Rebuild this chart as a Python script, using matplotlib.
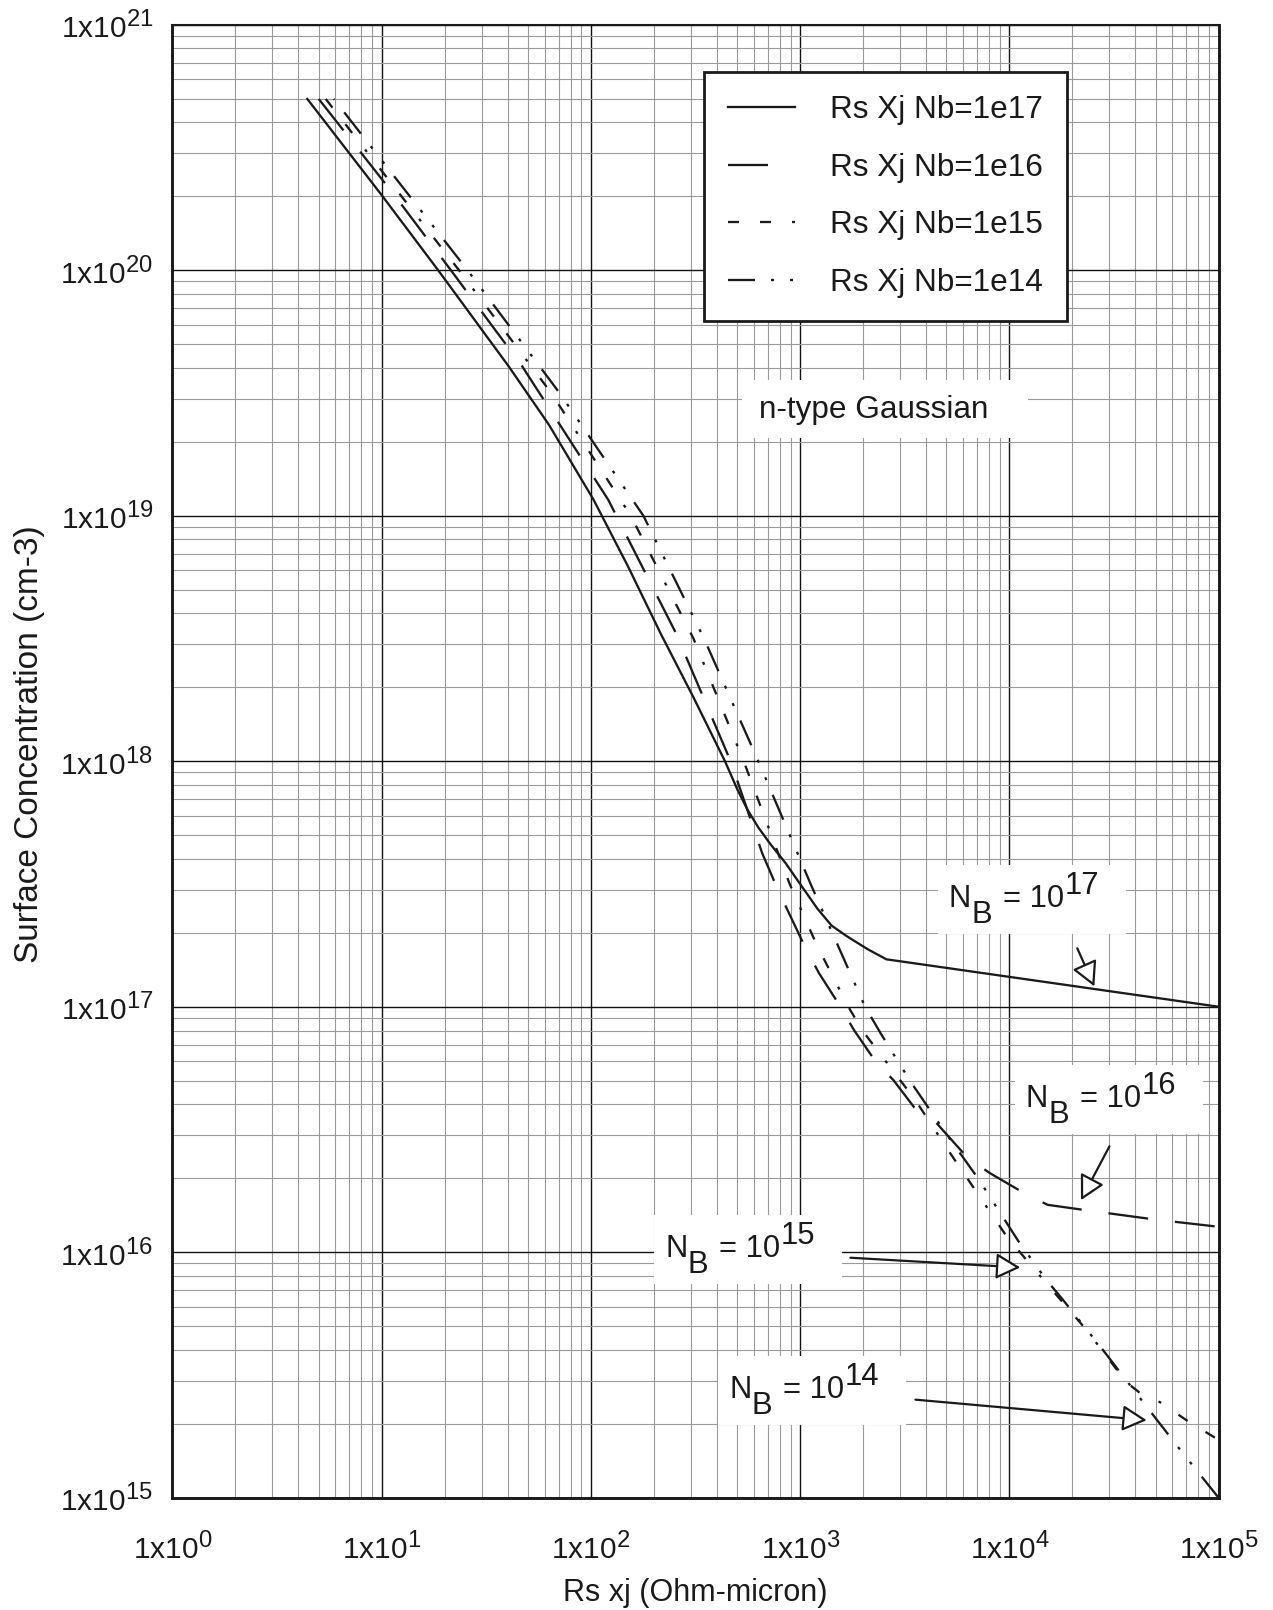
import numpy as np
import matplotlib
matplotlib.use("Agg")
import matplotlib.pyplot as plt
import matplotlib._mathtext as mathtext_core
from matplotlib import transforms
from matplotlib.patches import Rectangle
from matplotlib.ticker import LogLocator, FixedLocator, FuncFormatter, NullFormatter

plt.rcParams['font.family'] = ['Liberation Sans', 'DejaVu Sans']
plt.rcParams['mathtext.fontset'] = 'custom'
plt.rcParams['mathtext.rm'] = 'Liberation Sans'
plt.rcParams['mathtext.it'] = 'Liberation Sans:italic'
plt.rcParams['mathtext.bf'] = 'Liberation Sans:bold'
plt.rcParams['mathtext.default'] = 'regular'
plt.rcParams['lines.scale_dashes'] = False
mathtext_core.SHRINK_FACTOR = 0.8  # exponents in the tick labels are nearly full size

# Rs*xj (Ohm-micron) vs surface concentration (cm-3)
rsxj_nb17 = [4.41, 10, 18.6, 40.5, 63.1, 103, 151, 215, 309, 437, 501, 562, 631,
             724, 851, 1000, 1208, 1413, 1667, 2089, 2582, 1e5]
ns_nb17 = [4.98e20, 2.02e20, 1.0e20, 4.05e19, 2.34e19, 1.16e19, 6.17e18, 3.32e18,
           1.82e18, 1.0e18, 7.67e17, 6.31e17, 5.37e17, 4.57e17, 3.85e17, 3.16e17,
           2.51e17, 2.14e17, 1.94e17, 1.72e17, 1.56e17, 1.0e17]

rsxj_nb16 = [5.0, 11.5, 21.4, 47.0, 121, 255, 465, 659, 778, 885, 1062, 1230, 1535,
             1807, 2296, 2793, 3508, 4385, 6353, 8147, 11780, 15240, 23660, 49320, 1e5]
ns_nb16 = [4.98e20, 2.02e20, 1.0e20, 4.05e19, 1.16e19, 3.32e18, 1.0e18, 4.21e17,
           3.03e17, 2.4e17, 1.73e17, 1.37e17, 1.02e17, 8.04e16, 5.97e16, 5.02e16,
           3.89e16, 3.43e16, 2.41e16, 2.09e16, 1.74e16, 1.56e16, 1.48e16, 1.36e16,
           1.27e16]

rsxj_nb15 = [5.4, 23.4, 64.6, 155, 309, 537, 891, 1202, 1698, 1995, 3548, 5248,
             9772, 14790, 23280, 36310, 41690, 52480, 70800, 1e5]
ns_nb15 = [4.98e20, 1.0e20, 3.16e19, 1.0e19, 3.16e18, 1.0e18, 3.16e17, 1.78e17,
           1.0e17, 7.94e16, 4.17e16, 2.51e16, 1.15e16, 7.59e15, 4.84e15, 2.95e15,
           2.69e15, 2.45e15, 2.06e15, 1.72e15]

rsxj_nb14 = [5.9, 25.7, 70.8, 178, 347, 631, 1122, 2042, 2427, 3020, 3508, 5012,
             7079, 10960, 14930, 17950, 27990, 42950, 66990, 1e5]
ns_nb14 = [4.98e20, 1.0e20, 3.16e19, 1.0e19, 3.16e18, 1.0e18, 3.16e17, 1.0e17,
           7.78e16, 5.75e16, 4.71e16, 3.02e16, 2.0e16, 1.12e16, 7.76e15, 6.43e15,
           4.0e15, 2.49e15, 1.53e15, 1.0e15]

series = [(rsxj_nb17, ns_nb17, 'Rs Xj Nb=1e17'),
          (rsxj_nb16, ns_nb16, 'Rs Xj Nb=1e16'),
          (rsxj_nb15, ns_nb15, 'Rs Xj Nb=1e15'),
          (rsxj_nb14, ns_nb14, 'Rs Xj Nb=1e14')]

x_decades = [1e0, 1e1, 1e2, 1e3, 1e4, 1e5]
y_decades = [1e15, 1e16, 1e17, 1e18, 1e19, 1e20, 1e21]
nb_exponents = ['17', '16', '15', '14']

px = 0.72  # points per pixel at dpi 100
line_styles = ['-',
               (0, (40 * px, 27 * px)),
               (0, (11 * px, 21 * px, 11 * px, 21 * px, 3 * px, 21 * px)),
               (0, (27 * px, 16 * px, 3 * px, 16 * px, 3 * px, 16 * px))]
ink = '#1a1a1a'

fig = plt.figure(figsize=(12.73, 16.10), dpi=100)
ax = fig.add_axes([0.1355, 0.0697, 0.8218, 0.9150])
ax.set_xscale('log')
ax.set_yscale('log')
ax.set_xlim(x_decades[0], x_decades[-1])
ax.set_ylim(y_decades[0], y_decades[-1])

for i, ((xs, ys, lab), ls) in enumerate(zip(series, line_styles)):
    if i == 3:
        # dash pattern starts at the lower right corner, as on the original
        xs, ys = xs[::-1], ys[::-1]
    ax.plot(xs, ys, color=ink, lw=1.65, ls=ls, label=lab, zorder=3)

fmt = FuncFormatter(lambda v, _: '1x10$^{%d}$' % int(round(np.log10(v))))
for axis, decades in ((ax.xaxis, x_decades), (ax.yaxis, y_decades)):
    axis.set_major_locator(FixedLocator(decades))
    axis.set_minor_locator(LogLocator(base=10, subs=np.arange(2, 10), numticks=12))
    axis.set_major_formatter(fmt)
    axis.set_minor_formatter(NullFormatter())

ax.grid(which='major', color='#111111', lw=1.0, zorder=1)
ax.grid(which='minor', color='#9a9a9a', lw=0.8, zorder=1)
ax.set_axisbelow(True)
ax.tick_params(which='both', length=0, labelsize=21.5, colors=ink)
ax.tick_params(axis='x', pad=44)
ax.tick_params(axis='y', pad=14)
plt.setp(ax.get_xticklabels(), va='baseline')
for name, sp in ax.spines.items():
    sp.set_linewidth(1.5 if name == 'top' else 2.1)
    sp.set_color(ink)

ax.set_xlabel('Rs xj (Ohm-micron)', fontsize=22, color=ink)
ax.set_ylabel('Surface Concentration (cm-3)', fontsize=24, color=ink)
ax.xaxis.set_label_coords(0.5, -0.0545)
ax.yaxis.set_label_coords(-0.1214, 0.5115)

leg = ax.legend(loc='upper left', bbox_to_anchor=(0.508, 0.968), fontsize=22.7,
                frameon=True, fancybox=False, edgecolor=ink, framealpha=1,
                handlelength=2.15, handletextpad=1.1, labelspacing=0.87,
                borderpad=0.75, borderaxespad=0)
leg.get_frame().set_linewidth(2.0)
for t in leg.get_texts():
    t.set_color(ink)


def at_data(xd, yd):
    # inches measured from a data point
    return fig.dpi_scale_trans + transforms.ScaledTranslation(xd, yd, ax.transData)


def white_box(xd, yd, x0, y0, w, h):
    ax.add_artist(Rectangle((x0, y0), w, h, transform=at_data(xd, yd),
                            fc='white', ec='none', zorder=4))


# n-type Gaussian label
white_box(633, 2.5e19, -0.17, -0.20, 2.86, 0.58)
ax.text(633, 2.5e19, 'n-type Gaussian', fontsize=22.7, color=ink,
        ha='left', va='baseline', zorder=5)

# N_B labels: (label anchor, arrow tip, arrow start)
nb_notes = [((5140, 2.55e17), (25460, 1.21e17), (21100, 1.73e17)),
            ((12000, 3.9e16), (21980, 1.63e16), (30060, 2.7e16)),
            ((226, 9.58e15), (11270, 8.67e15), (1738, 9.5e15)),
            ((457, 2.54e15), (45300, 2.07e15), (3556, 2.51e15))]

for exp, (pos, tip, start) in zip(nb_exponents, nb_notes):
    white_box(pos[0], pos[1], -0.11, -0.27, 1.88, 0.69)
    for s, dx, dy in [('N', 0, 0), ('B', 16.3, -11.5), ('= 10', 38.7, 0), (exp, 83.0, 9.4)]:
        ax.annotate(s, xy=pos, xytext=(dx, dy), textcoords='offset points',
                    fontsize=22.3, color=ink, ha='left', va='baseline', zorder=5)
    ax.annotate('', xy=tip, xytext=start,
                arrowprops=dict(arrowstyle='-|>,head_length=0.75,head_width=0.4',
                                mutation_scale=20, fc='white', ec=ink, lw=1.6,
                                shrinkA=0, shrinkB=0), zorder=6)

fig.savefig('out.png', dpi=100)
